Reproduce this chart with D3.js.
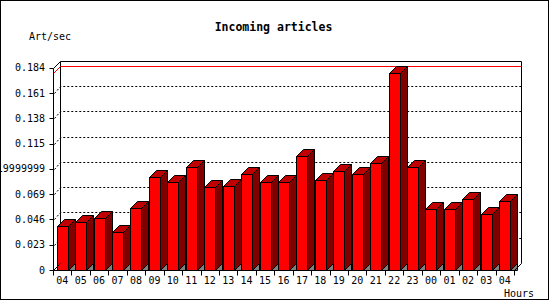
<!DOCTYPE html>
<html>
<head>
<meta charset="utf-8">
<script src="https://cdn.jsdelivr.net/npm/d3@7"></script>
<style>
body { margin:0; background:#fff; }
svg { display:block; }
text { font-family:"DejaVu Sans Mono", monospace; font-size:10px; fill:#000; }
</style>
</head>
<body>
<svg width="550" height="300"></svg>
<script>
var hours = ['04','05','06','07','08','09','10','11','12','13','14','15','16','17','18','19','20','21','22','23','00','01','02','03','04'];
var artPerSec = [0.0397,0.0434,0.0470,0.0343,0.0561,0.0843,0.0797,0.0934,0.0752,0.0761,0.0870,0.0797,0.0797,0.1036,0.0815,0.0897,0.0870,0.0970,0.1788,0.0934,0.0552,0.0552,0.0643,0.0506,0.0625];
var tickValues = [0,0.023,0.046,0.069,0.092,0.115,0.138,0.161,0.184];
var tickLabels = ['0','0.023','0.046','0.069','0.0919999999','0.115','0.138','0.161','0.184'];

var svg = d3.select('svg');
var depth = 7;

var x = d3.scaleBand().domain(d3.range(hours.length)).range([53, 514]);
var y = d3.scaleLinear().domain([0, 0.184]).range([270, 67.6]);

function px(v) { return Math.round(v) + 0.5; }

// outer frame
svg.append('rect').attr('x',0.5).attr('y',0.5).attr('width',548).attr('height',299)
  .attr('fill','none').attr('stroke','black');

// title and axis names
svg.append('text').attr('x',273.5).attr('y',31).attr('text-anchor','middle')
  .style('font-size','11.5px').style('font-weight','bold').text('Incoming articles');
svg.append('text').attr('x',29).attr('y',40).text('Art/sec');
svg.append('text').attr('x',504).attr('y',296.5).text('Hours');

var x0 = px(x.range()[0]), x1 = px(x.range()[1]);
var yb = px(y(0)), yt = px(y(0.184));

// back plane
svg.append('path')
  .attr('d','M'+(x0+depth)+','+(yb-depth)+'V'+(yt-depth)+'H'+(x1+depth)+'V'+(yb-depth))
  .attr('fill','none').attr('stroke','black');

// dotted grid on the back wall
svg.selectAll('.grid').data(tickValues.slice(1, -1)).enter().append('path')
  .attr('class','grid')
  .attr('d', function(d) { var yy = px(y(d)); return 'M'+(x0+1)+','+yy+'L'+(x0+depth)+','+(yy-depth)+'H'+(x1+depth); })
  .attr('fill','none').attr('stroke','black').attr('stroke-dasharray','2,2');

// max line
var ym = px(y(d3.max(artPerSec)));
svg.append('path')
  .attr('d','M'+x0+','+ym+'L'+(x0+depth)+','+(ym-depth)+'H'+(x1+depth))
  .attr('fill','none').attr('stroke','red');

// bars
var bars = svg.selectAll('.bar').data(artPerSec).enter().append('g').attr('class','bar');
bars.each(function(d, i) {
  var g = d3.select(this);
  var bl = px(x(i) + 3.7), br = bl + 11;
  var top = px(y(d)), bot = yb;
  g.append('path').attr('d','M'+br+','+bot+'L'+(br+depth)+','+(bot-depth)+'V'+bot+'Z')
    .attr('fill','#808080').attr('stroke','black');
  g.append('path').attr('d','M'+br+','+bot+'V'+top+'L'+(br+depth)+','+(top-depth)+'V'+(bot-depth)+'Z')
    .attr('fill','#800000').attr('stroke','black');
  g.append('path').attr('d','M'+bl+','+top+'L'+(bl+depth)+','+(top-depth)+'H'+(br+depth)+'L'+br+','+top+'Z')
    .attr('fill','#c00000').attr('stroke','black');
  g.append('rect').attr('x',bl).attr('y',top).attr('width',br-bl).attr('height',bot-top)
    .attr('fill','red').attr('stroke','black');
});

// front axes
svg.append('path')
  .attr('d','M'+(x0+depth)+','+(yt-depth)+'L'+x0+','+yt+'V'+yb+'H'+x1+'L'+(x1+depth)+','+(yb-depth))
  .attr('fill','none').attr('stroke','black');
svg.append('path').attr('d','M'+x0+','+yb+'L'+(x0+depth)+','+(yb-depth))
  .attr('fill','none').attr('stroke','black');

// y ticks
svg.selectAll('.ytick').data(tickValues).enter().append('path')
  .attr('d', function(d) { var yy = px(y(d)); return 'M'+(x0-4)+','+yy+'H'+x0; })
  .attr('stroke','black');
svg.selectAll('.ylab').data(tickLabels).enter().append('text')
  .attr('x',45).attr('y', function(d, i) { return y(tickValues[i]) + 3.6; })
  .attr('text-anchor','end').text(function(d) { return d; });

// x ticks
svg.selectAll('.xtick').data(d3.range(hours.length + 1)).enter().append('path')
  .attr('d', function(i) { var xx = px(x.range()[0] + i * x.bandwidth()); return 'M'+xx+','+yb+'V'+(yb+5); })
  .attr('stroke','black');
svg.selectAll('.xlab').data(hours).enter().append('text')
  .attr('x', function(d, i) { return x(i) + x.bandwidth() / 2; }).attr('y',283.5)
  .attr('text-anchor','middle').text(function(d) { return d; });
</script>
</body>
</html>
